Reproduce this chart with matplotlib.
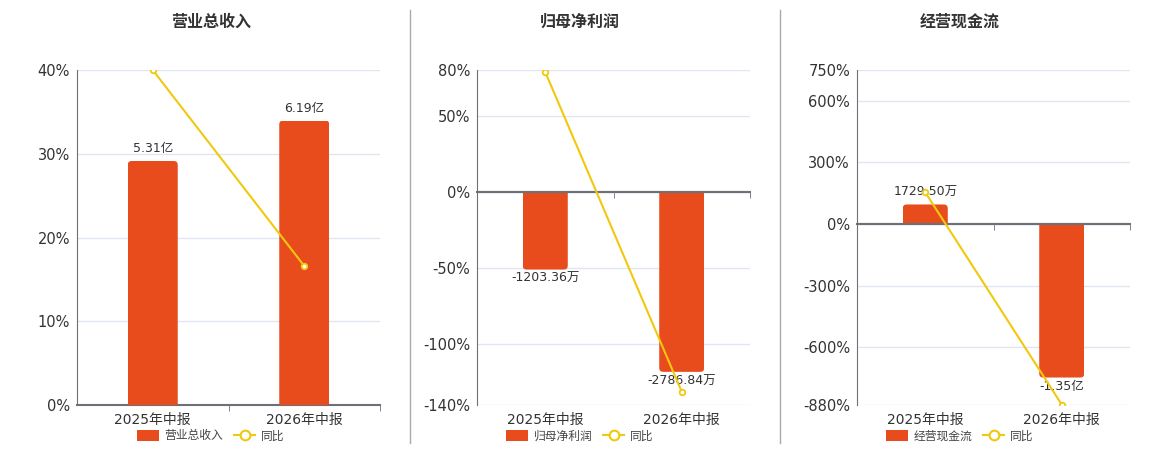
import matplotlib.pyplot as plt
from matplotlib.patches import FancyBboxPatch, Patch
from matplotlib.lines import Line2D

plt.rcParams['font.family'] = ['DejaVu Sans', 'Noto Sans CJK SC']

# ---- data ----
periods = ['2025年中报', '2026年中报']
titles = ['营业总收入', '归母净利润', '经营现金流']

revenue = [5.31, 6.19]            # 亿
revenue_labels = ['5.31亿', '6.19亿']
revenue_yoy = [40.0, 16.6]        # %

profit = [-1203.36, -2786.84]     # 万
profit_labels = ['-1203.36万', '-2786.84万']
profit_yoy = [78.7, -131.3]

cashflow = [1729.50, -13500.0]    # 万
cashflow_labels = ['1729.50万', '-1.35亿']
cashflow_yoy = [154.7, -878.0]

pct_ticks = [
    [0, 10, 20, 30, 40],
    [-140, -100, -50, 0, 50, 80],
    [-880, -600, -300, 0, 300, 600, 750],
]

BAR_COLOR = '#E84C1D'
LINE_COLOR = '#F2C80F'
AXIS_COLOR = '#6E7079'
GRID_COLOR = '#E0E6F1'
TEXT_COLOR = '#333333'

W, H = 1160, 450
fig = plt.figure(figsize=(W / 100, H / 100), dpi=100)

# axes rectangles in pixels: left, right
panels_px = [(77, 380), (477, 750), (857, 1130)]
top_px, bottom_px = 70, 405
center_px = [211, 580, 960]
# bar axis limits chosen so that zero lines up with the percentage axis
bar_lims = [(0, 7.29), (-3300, 1886), (-15918, 13562)]

series = [
    (revenue, revenue_labels, revenue_yoy),
    (profit, profit_labels, profit_yoy),
    (cashflow, cashflow_labels, cashflow_yoy),
]


def rounded_bars(ax, rects, radius_px=4):
    # rounded outer corners; the base end is clipped by the original bar so it stays square
    pos = ax.get_position()
    x0, x1 = ax.get_xlim()
    y0, y1 = ax.get_ylim()
    ppx = pos.width * W / (x1 - x0)
    ppy = pos.height * H / (y1 - y0)
    r = radius_px / ppx
    ext = 2 * radius_px / ppy
    for rect in rects:
        x, y = rect.get_x(), rect.get_y()
        w, h = rect.get_width(), rect.get_height()
        rect.set_visible(False)
        if h >= 0:
            yb, hh = y - ext, h + ext
        else:
            yb, hh = y + h, -h + ext
        p = FancyBboxPatch((x, yb), w, hh,
                           boxstyle=f'round,pad=0,rounding_size={r}',
                           mutation_aspect=ppx / ppy,
                           fc=BAR_COLOR, ec='none')
        ax.add_patch(p)
        p.set_clip_path(rect)


for k, ((l_px, r_px), (vals, labels, yoy), ticks) in enumerate(zip(panels_px, series, pct_ticks)):
    rect = [l_px / W, 1 - bottom_px / H, (r_px - l_px) / W, (bottom_px - top_px) / H]
    ax = fig.add_axes(rect)
    ax_bar = ax.twinx()
    ax_line = ax.twinx()

    ylim = (min(ticks), max(ticks))
    for a in (ax, ax_bar, ax_line):
        a.set_xlim(-0.5, 1.5)
    ax.set_ylim(*ylim)
    ax_line.set_ylim(*ylim)
    ax_bar.set_ylim(*bar_lims[k])

    # percentage axis
    ax.set_yticks(ticks)
    ax.set_yticklabels([f'{t}%' for t in ticks], fontsize=10.5, color=TEXT_COLOR)
    ax.tick_params(axis='y', length=0, pad=5)
    ax.yaxis.grid(True, color=GRID_COLOR, lw=1)
    ax.set_axisbelow(True)
    for s in ('top', 'right'):
        ax.spines[s].set_visible(False)
    ax.spines['left'].set_color(AXIS_COLOR)
    ax.spines['bottom'].set_position(('data', 0))
    ax.spines['bottom'].set_color(AXIS_COLOR)
    ax.spines['bottom'].set_linewidth(1.5)
    ax.set_xticks([0, 1])
    ax.set_xticklabels([])
    ax.tick_params(axis='x', which='major', length=0)
    ax.set_xticks([0.5, 1.5], minor=True)
    ax.tick_params(axis='x', which='minor', length=4, color=AXIS_COLOR, direction='out')
    for i, p in enumerate(periods):
        ax.text(i, -0.045, p, transform=ax.get_xaxis_transform(),
                ha='center', va='center', fontsize=10, color=TEXT_COLOR)

    for a in (ax_bar, ax_line):
        a.yaxis.set_visible(False)
        for s in a.spines.values():
            s.set_visible(False)

    # bars
    bars = ax_bar.bar(range(len(vals)), vals, width=0.33, color=BAR_COLOR)
    rounded_bars(ax_bar, bars)
    for i, (v, lab) in enumerate(zip(vals, labels)):
        off = 4 if v >= 0 else -2
        ax_bar.annotate(lab, (i, v), xytext=(0, off), textcoords='offset points',
                        ha='center', va='bottom' if v >= 0 else 'top',
                        fontsize=9, color=TEXT_COLOR)

    # zero line above bars
    if ylim[0] < 0:
        ax_line.axhline(0, color=AXIS_COLOR, lw=1.5, zorder=1)

    # yoy line
    ax_line.plot(range(len(yoy)), yoy, color=LINE_COLOR, lw=1.5, marker='o',
                 ms=4, mfc='white', mec=LINE_COLOR, mew=1.3, zorder=3)

    # title
    fig.text(center_px[k] / W, 1 - 22 / H, titles[k], ha='center', va='center',
             fontsize=11.5, fontweight='bold', color=TEXT_COLOR)

    # legend
    handles = [Patch(fc=BAR_COLOR, ec='none', label=titles[k]),
               Line2D([], [], color=LINE_COLOR, lw=1.5, marker='o', ms=7,
                      mfc='white', mec=LINE_COLOR, mew=1.5, label='同比')]
    fig.legend(handles=handles, loc='center', bbox_to_anchor=(center_px[k] / W, 1 - 436 / H),
               ncol=2, frameon=False, fontsize=8.5, handlelength=1.8, handleheight=1.0,
               handletextpad=0.5, columnspacing=0.9, labelcolor='#444444',
               borderaxespad=0, borderpad=0)

# separators between panels
for x in (410, 780):
    fig.add_artist(Line2D([x / W, x / W], [1 - 10 / H, 1 - 443 / H],
                          transform=fig.transFigure, color='#AAAAAA', lw=1))

fig.savefig('out.png', dpi=100)
